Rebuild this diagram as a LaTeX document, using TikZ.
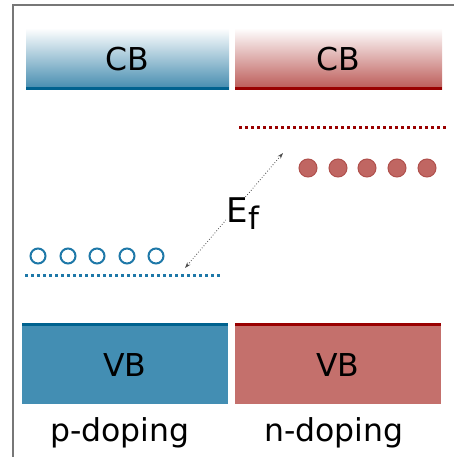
\documentclass[tikz,border=0pt]{standalone}
\usepackage{fontspec}
\setmainfont{DejaVu Sans}
\usetikzlibrary{arrows.meta}
\definecolor{pblue}{HTML}{438EB3}
\definecolor{pdark}{HTML}{00628F}
\definecolor{pcirc}{HTML}{1E78A8}
\definecolor{nred}{HTML}{C4706C}
\definecolor{ndark}{HTML}{990000}
\definecolor{ncirc}{HTML}{C06662}
\definecolor{ncircd}{HTML}{B0504C}
\definecolor{frame}{HTML}{777777}
\tikzset{
  lbl/.style={font=\fontsize{31.5}{36}\selectfont, inner sep=0pt, text=black},
  hole/.style={circle, draw=pcirc, line width=2pt, minimum size=15pt, inner sep=0pt},
  elec/.style={circle, fill=ncirc, draw=ncircd, line width=1pt, minimum size=18pt, inner sep=0pt},
  lev/.style={line width=3pt, dash pattern=on 3pt off 3pt},
}
\begin{document}
\begin{tikzpicture}[x=1pt,y=-1pt]
\useasboundingbox (0,0) rectangle (454,457);
% frame
\draw[frame, line width=2pt] (12.5,460) -- (12.5,5.5) -- (460,5.5);
% CB boxes
\shade[top color=white, bottom color=pblue!97!black] (26,28) rectangle (229,90);
\fill[pdark] (26,87) rectangle (229,90);
\shade[top color=white, bottom color=ncirc!85!ndark] (235,28) rectangle (442,90);
\fill[ndark] (235,87) rectangle (442,90);
\node[lbl] (cbp) at (127.5,59) {CB};
\node[lbl] (cbn) at (338.5,59) {CB};
% VB boxes
\fill[pblue] (22,323) rectangle (228,404);
\fill[pdark] (22,323) rectangle (228,326);
\fill[nred] (235,323) rectangle (441,404);
\fill[ndark] (235,323) rectangle (441,326);
\node[lbl] (vbp) at (125,365) {VB};
\node[lbl] (vbn) at (338,365) {VB};
% labels
\node[lbl] (pd) at (120,433) {p-doping};
\node[lbl] (nd) at (334,433) {n-doping};
% levels
\draw[lev, ndark] (239,127.5) -- (447,127.5);
\draw[lev, pcirc] (25,275.5) -- (222,275.5);
% carriers
\foreach \x [count=\i] in {308,338,367,397,427} \node[elec] (e\i) at (\x,168) {};
\foreach \x [count=\i] in {38,68,97,127,156} \node[hole] (h\i) at (\x,256) {};
% Ef arrow
\coordinate (up) at (283,153);
\coordinate (lo) at (185,268);
\draw[black!70, line width=0.8pt, dotted, {Stealth[length=6pt,width=4pt]}-{Stealth[length=6pt,width=4pt]}] (lo) -- (up);
\node[lbl, fill=white, inner sep=1pt, font=\fontsize{34}{38}\selectfont] (ef) at (243,214) {E\raisebox{-7pt}{\fontsize{31}{34}\selectfont f}};
\end{tikzpicture}
\end{document}
